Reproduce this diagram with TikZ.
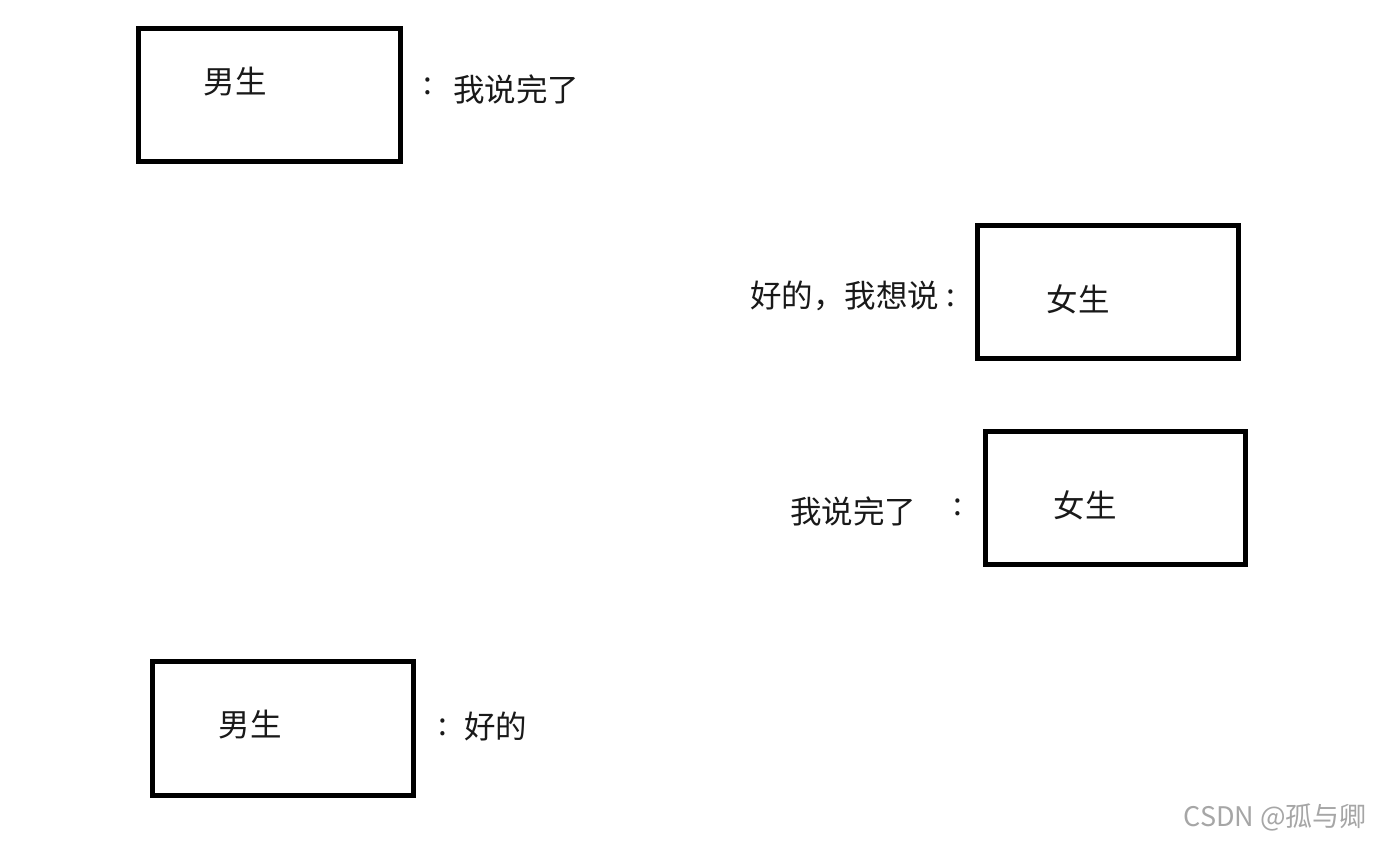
\documentclass[tikz,border=0pt]{standalone}
\usepackage{fontspec}
\newfontfamily\cjk{Noto Sans CJK SC}
\begin{document}
\begin{tikzpicture}[x=1pt,y=-1pt,
  box/.style={draw=black,line width=5pt},
  lbl/.style={font=\cjk\fontsize{31.5}{36}\selectfont,inner sep=0pt,text=black!90},
  wm/.style={font=\cjk\fontsize{27}{31}\selectfont,inner sep=0pt,text=black!35}]
\useasboundingbox (0,0) rectangle (1387,844);
% boxes
\draw[box] (138,28) rectangle (400,161);
\draw[box] (977,225) rectangle (1238,358);
\draw[box] (985,431) rectangle (1245,564);
\draw[box] (152,661) rectangle (413,795);
% box texts
\node[lbl] (m1) at (235,82) {男生};
\node[lbl] (f1) at (1078,299) {女生};
\node[lbl] (f2) at (1085,505) {女生};
\node[lbl] (m2) at (250,725) {男生};
% labels
\node[lbl] (c1) at (428,86) {:};
\node[lbl,anchor=west] (t1) at (453,89) {我说完了};
\node[lbl,anchor=west] (t2) at (750,296) {好的，我想说};
\node[lbl] (c2) at (951,298) {:};
\node[lbl,anchor=west] (t3) at (790,511) {我说完了};
\node[lbl] (c3) at (958,507) {:};
\node[lbl] (c4) at (443,727) {:};
\node[lbl,anchor=west] (t4) at (464,726) {好的};
% watermark
\node[wm,anchor=east] (w) at (1367,817) {CSDN @孤与卿};
\end{tikzpicture}
\end{document}
